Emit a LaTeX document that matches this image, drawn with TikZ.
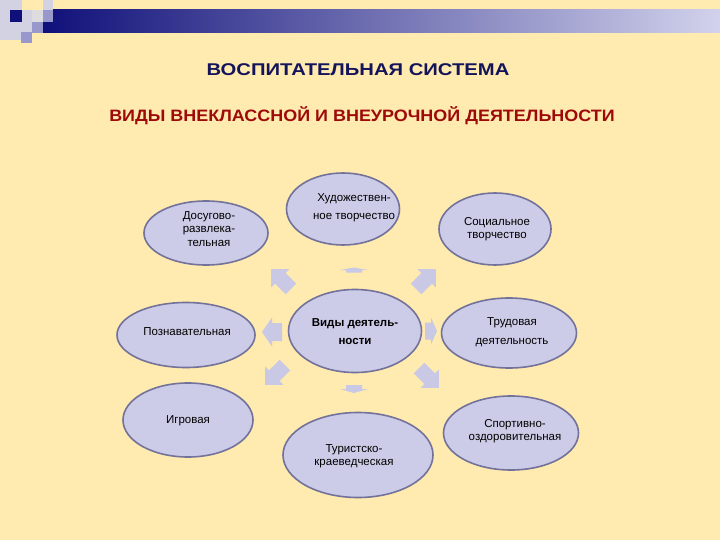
\documentclass[tikz,border=0pt]{standalone}
\usepackage{fontspec}
\usepackage{graphicx}
\setmainfont{Liberation Sans}
\usetikzlibrary{shapes.geometric}
\definecolor{bg}{HTML}{FFEAAF}
\definecolor{navy}{HTML}{10107A}
\definecolor{barlight}{HTML}{D2D2EC}
\definecolor{sqgrey}{HTML}{D2D2E2}
\definecolor{sqlav}{HTML}{9898CC}
\definecolor{sqpale}{HTML}{DDDDE0}
\definecolor{titleA}{HTML}{14145A}
\definecolor{titleB}{HTML}{9E0A0A}
\definecolor{ellfill}{HTML}{CCCCE8}
\definecolor{ellborder}{HTML}{72729A}
\definecolor{arrfill}{HTML}{C9C9E6}
\newcommand\blkarrow[7]{% x, y, angle, length, head length, head width, shaft width
  \fill[arrfill,shift={(#1,#2)},rotate=#3]
    ({-#4/2},{-#7/2}) -- ({#4/2-#5},{-#7/2}) -- ({#4/2-#5},{-#6/2}) -- ({#4/2},0)
    -- ({#4/2-#5},{#6/2}) -- ({#4/2-#5},{#7/2}) -- ({-#4/2},{#7/2}) -- cycle;}
\begin{document}
\begin{tikzpicture}[x=1pt,y=-1pt,
  ell/.style={ellipse, draw=ellborder, fill=ellfill, line width=1.6pt, inner sep=0pt},
  lbl/.style={font=\fontsize{11.5}{13.5}\selectfont, align=center, text=black, inner sep=0pt},
  lblwide/.style={font=\fontsize{11.5}{18}\selectfont, align=center, text=black, inner sep=0pt},
  ttl/.style={inner sep=0pt}]
\useasboundingbox (0,0) rectangle (720,540);
\fill[bg] (0,0) rectangle (720,540);
% header bar and squares
\shade[left color=navy, right color=barlight] (43,10) rectangle (720,33);
\fill[sqgrey] (0,0) rectangle (22,40);
\fill[sqgrey] (22,10) rectangle (32,32);
\fill[navy] (10,10) rectangle (22,22);
\fill[sqlav] (21,32) rectangle (32,43);
\fill[sqpale] (32,10) rectangle (43,22);
\fill[sqlav] (32,22) rectangle (43,33);
\fill[sqgrey] (43,0) rectangle (53,10);
\fill[sqlav] (43,10) rectangle (53,22);
% titles
\node[ttl, text=titleA, font=\fontsize{17}{19}\selectfont\bfseries] (t1) at (358,70)
  {\scalebox{1.19}[1]{ВОСПИТАТЕЛЬНАЯ СИСТЕМА}};
\node[ttl, text=titleB, font=\fontsize{16.5}{19}\selectfont\bfseries] (t2) at (362,116)
  {\scalebox{1.088}[1]{ВИДЫ ВНЕКЛАССНОЙ И ВНЕУРОЧНОЙ ДЕЯТЕЛЬНОСТИ}};
% arrows
\blkarrow{281}{279}{135}{28}{13}{26}{15}
\blkarrow{426}{279}{45}{28}{13}{26}{15}
\blkarrow{272}{332}{180}{20}{10}{29}{18}
\blkarrow{431}{331}{0}{12}{6}{27}{17}
\blkarrow{275}{375}{225}{28}{13}{26}{15}
\blkarrow{429}{378}{315}{28}{13}{26}{15}
\blkarrow{354}{270}{90}{5}{2.5}{28}{16}
\blkarrow{354}{389}{270}{8}{4}{28}{16}
% ellipses
\node[ell, minimum width=124pt, minimum height=64pt] (dos) at (206,233) {};
\node[ell, minimum width=113pt, minimum height=72pt] (hud) at (343,209) {};
\node[ell, minimum width=112pt, minimum height=72pt] (soc) at (495,229) {};
\node[ell, minimum width=138pt, minimum height=65pt] (poz) at (186,335) {};
\node[ell, minimum width=133pt, minimum height=83pt] (vid) at (355,331) {};
\node[ell, minimum width=135pt, minimum height=70pt] (trud) at (509,333) {};
\node[ell, minimum width=130pt, minimum height=74pt] (igr) at (188,420) {};
\node[ell, minimum width=150pt, minimum height=85pt] (tur) at (358,455) {};
\node[ell, minimum width=135pt, minimum height=74pt] (sport) at (511,433) {};
% labels
\node[lbl] (dost) at (209,229) {Досугово-\\развлека-\\тельная};
\node[lblwide] (hudt) at (354,208) {Художествен-\\ное творчество};
\node[lbl] (soct) at (497,229) {Социальное\\творчество};
\node[lbl] (pozt) at (187,332) {Познавательная};
\node[lblwide, font=\fontsize{11.5}{18}\selectfont\bfseries] (vidt) at (355,332) {Виды деятель-\\ности};
\node[lblwide, font=\fontsize{11.5}{19}\selectfont] (trudt) at (512,332) {Трудовая\\деятельность};
\node[lbl] (igrt) at (188,421) {Игровая};
\node[lbl] (turt) at (354,456) {Туристско-\\краеведческая};
\node[lbl] (sportt) at (515,431) {Спортивно-\\оздоровительная};
\end{tikzpicture}
\end{document}
